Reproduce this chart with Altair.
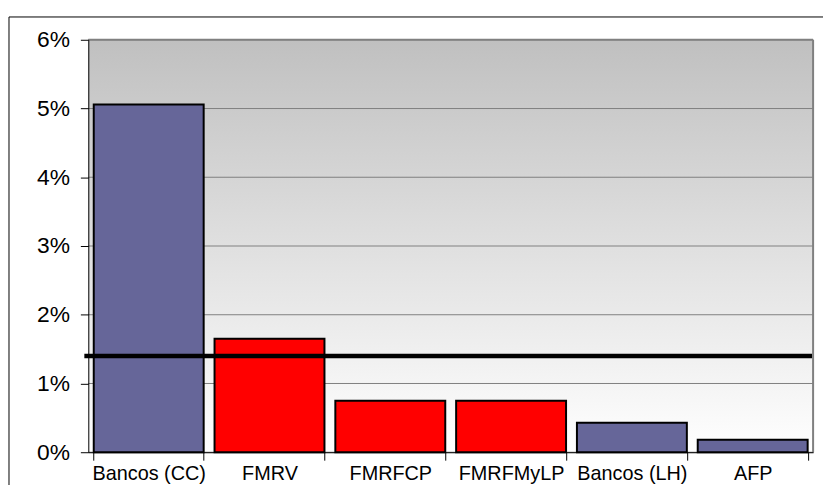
import altair as alt
import pandas as pd

categories = ["Bancos (CC)", "FMRV", "FMRFCP", "FMRFMyLP", "Bancos (LH)", "AFP"]
values = [5.06, 1.65, 0.75, 0.75, 0.43, 0.18]
groups = ["Bancos", "FM", "FM", "FM", "Bancos", "Bancos"]
reference_line = [1.4]
y_ticks = [0, 1, 2, 3, 4, 5, 6]

bars_df = pd.DataFrame({"cat": categories, "val": values, "grp": groups})
line_df = pd.DataFrame({"ref": reference_line})
grid_df = pd.DataFrame({"t": y_ticks})
one_df = pd.DataFrame({"a": [0]})

FONT = "Liberation Sans"

y_scale = alt.Scale(domain=[0, 6], nice=False, zero=True)
x_scale = alt.Scale(domain=categories, paddingInner=0.09, paddingOuter=0.045)

y_axis = alt.Axis(values=y_ticks, labelExpr="datum.value + '%'", labelFontSize=23,
                  labelFont=FONT, labelColor="black", tickSize=8, tickColor="black",
                  domainColor="black", labelPadding=11, grid=False, zindex=1, title=None)

bg = alt.Chart(one_df).mark_rect(
    color=alt.Gradient(
        gradient="linear",
        stops=[alt.GradientStop(color="#c0c0c0", offset=0),
               alt.GradientStop(color="#ffffff", offset=1)],
        x1=0, x2=0, y1=0, y2=1,
    )
).encode(x=alt.value(0), x2=alt.value("width"), y=alt.value(0), y2=alt.value("height"))

grid = alt.Chart(grid_df).mark_rule(color="#808080", strokeWidth=1).encode(
    y=alt.Y("t:Q", scale=y_scale, axis=y_axis, title=None),
    x=alt.value(0), x2=alt.value("width"),
)

bars = alt.Chart(bars_df).mark_bar(stroke="black", strokeWidth=2, strokeJoin="miter").encode(
    x=alt.X("cat:N", scale=x_scale, sort=categories, title=None,
            axis=alt.Axis(labelAngle=0, labelFontSize=20, labelFont=FONT, labelColor="black",
                          tickSize=8, tickColor="black", tickBand="extent", domainColor="black",
                          domainWidth=1, labelPadding=4, grid=False, zindex=1)),
    y=alt.Y("val:Q", scale=y_scale, title=None, axis=y_axis),
    color=alt.Color("grp:N", scale=alt.Scale(domain=["Bancos", "FM"], range=["#666699", "#ff0000"]),
                    legend=None),
)

ref = alt.Chart(line_df).mark_rule(color="black", strokeWidth=4.5).encode(
    y=alt.Y("ref:Q", scale=y_scale, axis=y_axis, title=None),
    x=alt.value(-4), x2=alt.value(730),
)

frame_top = alt.Chart(one_df).mark_rule(color="#808080", strokeWidth=2).encode(
    x=alt.value(0), x2=alt.value("width"), y=alt.value(0))
frame_right = alt.Chart(one_df).mark_rule(color="#808080", strokeWidth=2).encode(
    x=alt.value("width"), y=alt.value(0), y2=alt.value("height"))

outer_top = alt.Chart(one_df).mark_rule(color="black", strokeWidth=1).encode(
    x=alt.value(-80), x2=alt.value(760), y=alt.value(-23))
outer_left = alt.Chart(one_df).mark_rule(color="black", strokeWidth=1).encode(
    x=alt.value(-80), y=alt.value(-23), y2=alt.value(480))

chart = alt.layer(bg, grid, bars, ref, frame_top, frame_right, outer_top, outer_left).properties(
    width=731, height=416,
    autosize=alt.AutoSizeParams(type="none"),
    padding={"left": 81, "top": 30, "right": 10, "bottom": 31},
).configure_view(stroke=None).configure(background="white")

chart.save("out.html", embed_options={"renderer": "svg", "actions": False})
